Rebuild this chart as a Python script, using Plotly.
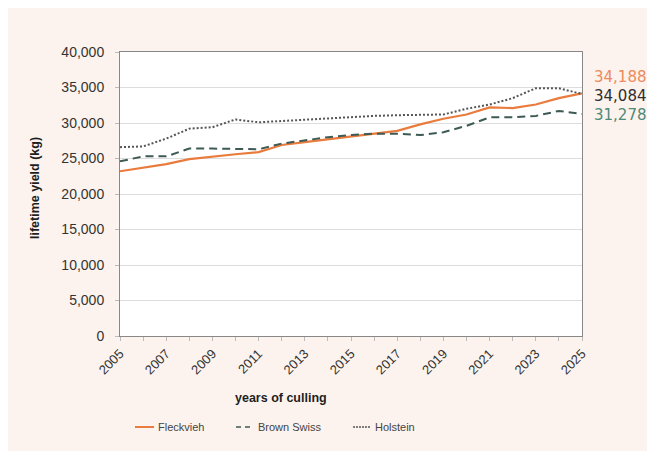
import plotly.graph_objects as go

years = list(range(2005, 2026))
fleckvieh = [23200, 23700, 24200, 24900, 25300, 25600, 25900, 26900, 27300, 27700, 28100,
             28500, 28900, 29800, 30600, 31200, 32200, 32100, 32600, 33500, 34188]
brown_swiss = [24600, 25300, 25300, 26400, 26400, 26400, 26300, 27100, 27600, 28000, 28300,
               28500, 28500, 28300, 28700, 29600, 30800, 30800, 31000, 31700, 31278]
holstein = [26600, 26700, 27800, 29200, 29400, 30500, 30100, 30300, 30400, 30600, 30900,
            31000, 31100, 31100, 31200, 32000, 32600, 33500, 34900, 34900, 34084]
series_names = ["Fleckvieh", "Brown Swiss", "Holstein"]
end_labels = ["34,188", "34,084", "31,278"]
end_colors = ["#EE8A5C", "#2E2E2E", "#4E8A78"]
y_ticks = list(range(0, 40001, 5000))
y_tick_text = [f"{v:,}" for v in y_ticks]
x_ticks = list(range(2005, 2026, 2))

# page body has an 8px margin: figure starts at (8, 8) in the screenshot
OFF = 8
W, H = 647, 443
L, T = 112, 44
R = W - 574
B = H - 328
pw, ph = W - L - R, H - T - B


def px_x(x):  # screenshot px -> paper
    return (x - OFF - L) / pw


def px_y(y):
    return (H - B - (y - OFF)) / ph


colors = ["#E97B3C", "#3D5A55", "#555555"]
dashes = ["solid", "8px,5px", "2px,2px"]
widths = [2.2, 2, 2]
data = [fleckvieh, brown_swiss, holstein]

fig = go.Figure()
for name, vals, c, d, w in zip(series_names, data, colors, dashes, widths):
    fig.add_trace(go.Scatter(x=years, y=vals, name=name, mode="lines",
                             line=dict(color=c, width=w, dash=d), showlegend=False))

label_y_px = [77, 96, 115]
for txt, col, ypx in zip(end_labels, end_colors, label_y_px):
    fig.add_annotation(xref="paper", yref="paper", x=px_x(592), y=px_y(ypx),
                       xanchor="left", yanchor="middle", showarrow=False,
                       text=txt, font=dict(size=15, color=col, family="DejaVu Sans"))

# axis titles
fig.add_annotation(xref="paper", yref="paper", x=px_x(281), y=px_y(398), showarrow=False,
                   xanchor="center", yanchor="middle", text="<b>years of culling</b>",
                   font=dict(size=12.5, color="#1E1E1E", family="Liberation Sans"))
fig.add_annotation(xref="paper", yref="paper", x=px_x(35), y=px_y(188), showarrow=False,
                   xanchor="center", yanchor="middle", textangle=-90,
                   text="<b>lifetime yield (kg)</b>",
                   font=dict(size=12.5, color="#1E1E1E", family="Liberation Sans"))

shapes = []

# manual legend
leg_y = 427
leg_line_x = [(135, 154), (236, 254), (353, 371)]
leg_text_x = [156, 256, 373]
leg_dash = ["solid", "5px,4px", "2px,1px"]
for (x0, x1), tx, name, c, ld in zip(leg_line_x, leg_text_x, series_names, colors, leg_dash):
    shapes.append(dict(type="line", xref="paper", yref="paper", x0=px_x(x0), x1=px_x(x1),
                       y0=px_y(leg_y), y1=px_y(leg_y),
                       line=dict(color=c, width=2 if ld == "solid" else 1.5, dash=ld)))
    fig.add_annotation(xref="paper", yref="paper", x=px_x(tx), y=px_y(leg_y), showarrow=False,
                       xanchor="left", yanchor="middle", text=name,
                       font=dict(size=11, color="#444444", family="Liberation Sans"))

fig.update_layout(
    width=W, height=H,
    margin=dict(l=L, r=R, t=T, b=B, autoexpand=False),
    paper_bgcolor="#FDF3EE", plot_bgcolor="white",
    font=dict(family="Liberation Sans", color="#333333", size=11),
    showlegend=False,
    shapes=shapes,
)
fig.update_xaxes(range=[2005, 2025], tickvals=x_ticks, tickangle=-45,
                 ticks="outside", ticklen=4, tickcolor="#BBBBBB",
                 minor=dict(dtick=1, tick0=2005, ticks="outside", ticklen=4, tickcolor="#BBBBBB"),
                 showgrid=False, showline=True, linecolor="#888888", linewidth=1, mirror=True,
                 tickfont=dict(size=13, color="#333333"),
                 automargin=False, zeroline=False)
fig.update_yaxes(range=[0, 40000], tickvals=y_ticks, ticktext=y_tick_text,
                 ticks="outside", ticklen=4, tickcolor="#BBBBBB", ticklabelstandoff=8,
                 showgrid=True, gridcolor="#DDDDDD", gridwidth=1,
                 showline=True, linecolor="#888888", linewidth=1, mirror=True,
                 tickfont=dict(size=14, color="#333333"),
                 automargin=False, zeroline=False)

fig.write_html("out.html")
